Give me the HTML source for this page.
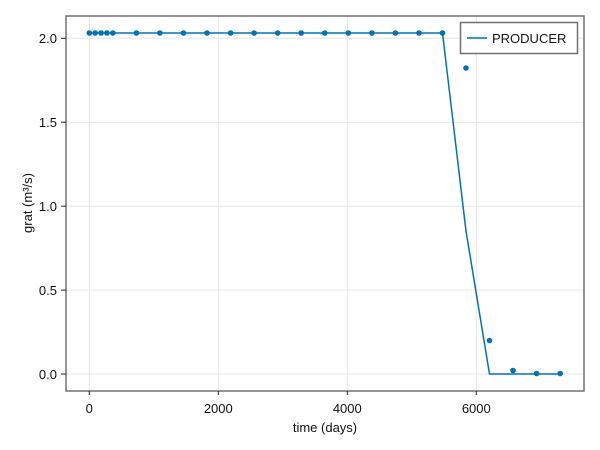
<!DOCTYPE html>
<html><head><style>body{margin:0;background:#fff}svg{display:block}text{font-family:"Liberation Sans",sans-serif;fill:#111}</style></head><body>
<svg width="600" height="450" xmlns="http://www.w3.org/2000/svg">
<g stroke="#e6e6e6" stroke-width="1">
<line x1="89.3" y1="16" x2="89.3" y2="390"/><line x1="218.3" y1="16" x2="218.3" y2="390"/><line x1="347.3" y1="16" x2="347.3" y2="390"/><line x1="476.3" y1="16" x2="476.3" y2="390"/>
<line x1="66" y1="38.3" x2="584" y2="38.3"/><line x1="66" y1="122.2" x2="584" y2="122.2"/><line x1="66" y1="206.2" x2="584" y2="206.2"/><line x1="66" y1="290.1" x2="584" y2="290.1"/><line x1="66" y1="374" x2="584" y2="374"/>
</g>
<polyline fill="none" stroke="#0072b2" stroke-width="1.5" points="89.3,33 442.5,33 466,231 489.5,374 560.2,374"/>
<g fill="#0072b2">
<circle cx="89.3" cy="33" r="2.8"/><circle cx="95.2" cy="33" r="2.8"/><circle cx="101.1" cy="33" r="2.8"/><circle cx="106.9" cy="33" r="2.8"/><circle cx="112.8" cy="33" r="2.8"/>
<circle cx="136.4" cy="33" r="2.8"/><circle cx="159.9" cy="33" r="2.8"/><circle cx="183.5" cy="33" r="2.8"/><circle cx="207" cy="33" r="2.8"/><circle cx="230.6" cy="33" r="2.8"/><circle cx="254.1" cy="33" r="2.8"/><circle cx="277.7" cy="33" r="2.8"/><circle cx="301.2" cy="33" r="2.8"/><circle cx="324.8" cy="33" r="2.8"/><circle cx="348.3" cy="33" r="2.8"/><circle cx="371.9" cy="33" r="2.8"/><circle cx="395.4" cy="33" r="2.8"/><circle cx="419" cy="33" r="2.8"/><circle cx="442.5" cy="33" r="2.8"/>
<circle cx="466" cy="68" r="2.8"/><circle cx="489.5" cy="340.5" r="2.8"/><circle cx="513" cy="370.5" r="2.8"/><circle cx="536.6" cy="373.5" r="2.8"/><circle cx="560.2" cy="373.5" r="2.8"/>
</g>
<rect x="66" y="16" width="518" height="375" fill="none" stroke="#707070" stroke-width="1.5"/>
<g stroke="#222" stroke-width="1">
<line x1="89.3" y1="391" x2="89.3" y2="395"/><line x1="218.3" y1="391" x2="218.3" y2="395"/><line x1="347.3" y1="391" x2="347.3" y2="395"/><line x1="476.3" y1="391" x2="476.3" y2="395"/>
<line x1="61" y1="38.3" x2="66" y2="38.3"/><line x1="61" y1="122.2" x2="66" y2="122.2"/><line x1="61" y1="206.2" x2="66" y2="206.2"/><line x1="61" y1="290.1" x2="66" y2="290.1"/><line x1="61" y1="374" x2="66" y2="374"/>
</g>
<g font-size="13" text-anchor="middle">
<text x="89.3" y="413">0</text><text x="218.3" y="413">2000</text><text x="347.3" y="413">4000</text><text x="476.3" y="413">6000</text>
</g>
<g font-size="13" text-anchor="end">
<text x="57" y="43">2.0</text><text x="57" y="127">1.5</text><text x="57" y="211">1.0</text><text x="57" y="295">0.5</text><text x="57" y="379">0.0</text>
</g>
<text x="325" y="432" font-size="13" text-anchor="middle">time (days)</text>
<text transform="translate(32,203) rotate(-90)" font-size="13" text-anchor="middle">grat (m³/s)</text>
<rect x="460.5" y="22.5" width="117" height="31" fill="#fff" stroke="#707070" stroke-width="1.5"/>
<line x1="467" y1="38" x2="487" y2="38" stroke="#0072b2" stroke-width="1.5"/>
<text x="492" y="43" font-size="13">PRODUCER</text>
</svg>
</body></html>
